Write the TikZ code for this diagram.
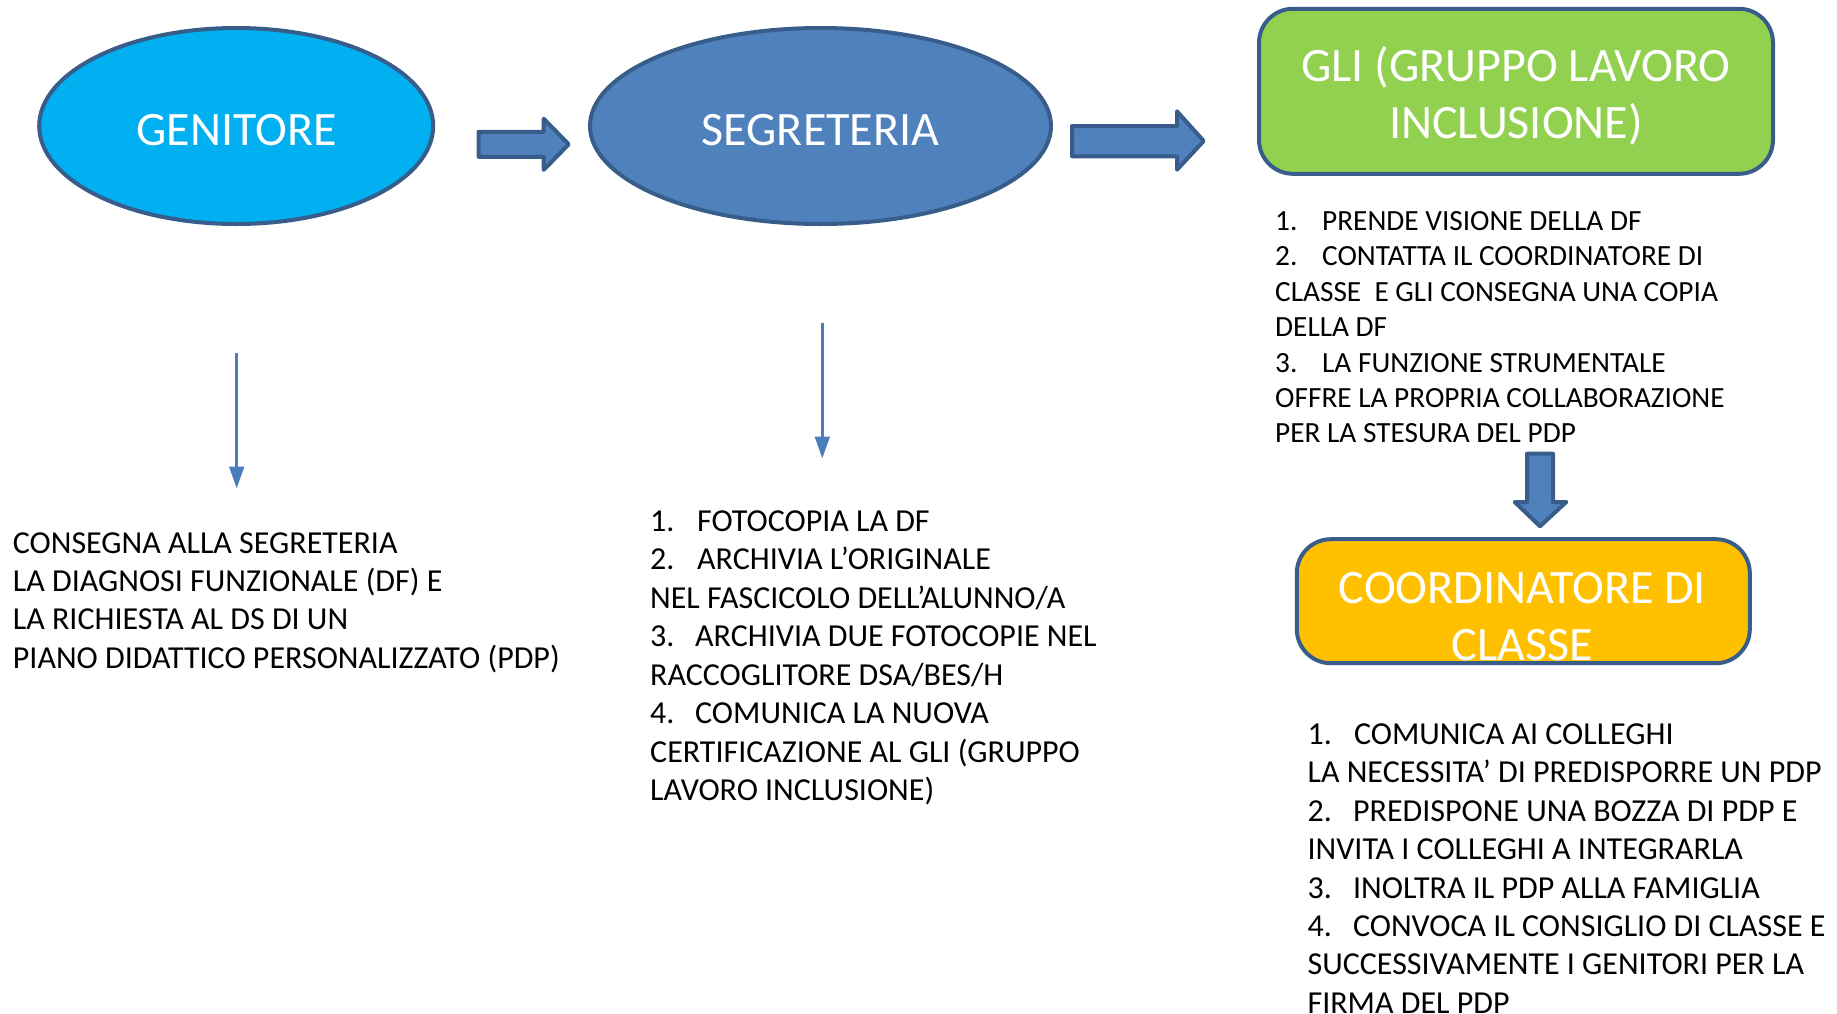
\documentclass[tikz,border=0pt]{standalone}
\usepackage{fontspec}
\setmainfont{Carlito}
\usetikzlibrary{shapes.geometric,arrows.meta}
\definecolor{edgeblue}{HTML}{385D8A}
\definecolor{cyanfill}{HTML}{00B0F0}
\definecolor{bluefill}{HTML}{4F81BD}
\definecolor{greenfill}{HTML}{92D050}
\definecolor{orangefill}{HTML}{FFC000}
\definecolor{thinblue}{HTML}{4A7EBB}
\tikzset{
  shapeline/.style={draw=edgeblue, line width=4pt},
  ovalbox/.style={shapeline, ellipse, inner sep=0pt, outer sep=0pt},
  roundbox/.style={shapeline, rectangle, rounded corners=34pt, inner sep=0pt, outer sep=0pt},
  bigarrow/.style={draw=edgeblue, line width=4pt, fill=bluefill, line join=round},
  thinarrow/.style={draw=thinblue, line width=2.5pt, -{Triangle[width=14.7pt,length=21.7pt]}},
  titletext/.style={text=white, inner sep=0pt, anchor=base, font=\fontsize{48}{57.3}\selectfont},
  bodytext/.style={text=black, inner sep=0pt, anchor=base west}
}
\newcommand{\itm}[2]{\makebox[#1][l]{#2}}
\begin{document}
\begin{tikzpicture}[x=1pt,y=-1pt]
\useasboundingbox (0,0) rectangle (1837,1013);

% ellipses
\node[ovalbox, fill=cyanfill, minimum width=394pt, minimum height=196pt] (gen) at (236.2,126) {};
\node[titletext] (gentext) at (236.6,145.5) {GENITORE};
\node[ovalbox, fill=bluefill, minimum width=461pt, minimum height=196pt] (seg) at (820.5,126) {};
\node[titletext] (segtext) at (820.5,145.5) {SEGRETERIA};

% rounded boxes
\node[roundbox, fill=greenfill, minimum width=514pt, minimum height=165pt] (gli) at (1516,91.3) {};
\node[titletext] (glitext) at (1516,81) {\parbox[t]{510pt}{\centering GLI (GRUPPO LAVORO\\INCLUSIONE)}};
\node[roundbox, fill=orangefill, minimum width=453pt, minimum height=124pt] (coord) at (1523.3,601.2) {};
\node[titletext] (coordtext) at (1522.5,603.3) {\parbox[t]{450pt}{\centering COORDINATORE DI\\CLASSE}};

% block arrows
\draw[bigarrow] (478.7,131.8) -- (543.7,131.8) -- (543.7,118.7) -- (568.7,144.3)
  -- (543.7,169.9) -- (543.7,156.8) -- (478.7,156.8) -- cycle;
\draw[bigarrow] (1072,126) -- (1177,126) -- (1177,111.3) -- (1203.7,141)
  -- (1177,169.7) -- (1177,156.3) -- (1072,156.3) -- cycle;
\draw[bigarrow] (1527,453.7) -- (1553,453.7) -- (1553,502) -- (1566.3,502)
  -- (1540,526.3) -- (1514.7,502) -- (1527,502) -- cycle;

% thin arrows
\coordinate (t1s) at (236.7,353.3);
\coordinate (t1e) at (236.7,488.3);
\coordinate (t2s) at (822.3,323.3);
\coordinate (t2e) at (822.3,458.3);
\draw[thinarrow] (t1s) -- (t1e);
\draw[thinarrow] (t2s) -- (t2e);

% text blocks
\node[bodytext] (b1) at (12.7,553) {\parbox[t]{700pt}{\fontsize{32}{38.4}\selectfont
CONSEGNA ALLA SEGRETERIA\\
LA DIAGNOSI FUNZIONALE (DF) E\\
LA RICHIESTA AL DS DI UN\\
PIANO DIDATTICO PERSONALIZZATO (PDP)}};

\node[bodytext] (b2) at (650,531.2) {\parbox[t]{700pt}{\fontsize{32}{38.5}\selectfont
\itm{47pt}{1.}FOTOCOPIA LA DF\\
\itm{47pt}{2.}ARCHIVIA L’ORIGINALE\\
NEL FASCICOLO DELL’ALUNNO/A\\
\itm{45pt}{3.}ARCHIVIA DUE FOTOCOPIE NEL\\
RACCOGLITORE DSA/BES/H\\
\itm{45pt}{4.}COMUNICA LA NUOVA\\
CERTIFICAZIONE AL GLI (GRUPPO\\
LAVORO INCLUSIONE)}};

\node[bodytext] (b3) at (1275,230.5) {\parbox[t]{600pt}{\fontsize{29.3}{35.4}\selectfont
\itm{47pt}{1.}PRENDE VISIONE DELLA DF\\
\itm{47pt}{2.}CONTATTA IL COORDINATORE DI\\
CLASSE~ E GLI CONSEGNA UNA COPIA\\
DELLA DF\\
\itm{47pt}{3.}LA FUNZIONE STRUMENTALE\\
OFFRE LA PROPRIA COLLABORAZIONE\\
PER LA STESURA DEL PDP}};

\node[bodytext] (b4) at (1307.4,744.6) {\parbox[t]{600pt}{\fontsize{32}{38.35}\selectfont
\itm{46.5pt}{1.}COMUNICA AI COLLEGHI\\
LA NECESSITA’ DI PREDISPORRE UN PDP\\
\itm{45.5pt}{2.}PREDISPONE UNA BOZZA DI PDP E\\
INVITA I COLLEGHI A INTEGRARLA\\
\itm{45.5pt}{3.}INOLTRA IL PDP ALLA FAMIGLIA\\
\itm{45.5pt}{4.}CONVOCA IL CONSIGLIO DI CLASSE E\\
SUCCESSIVAMENTE I GENITORI PER LA\\
FIRMA DEL PDP}};
\end{tikzpicture}
\end{document}
